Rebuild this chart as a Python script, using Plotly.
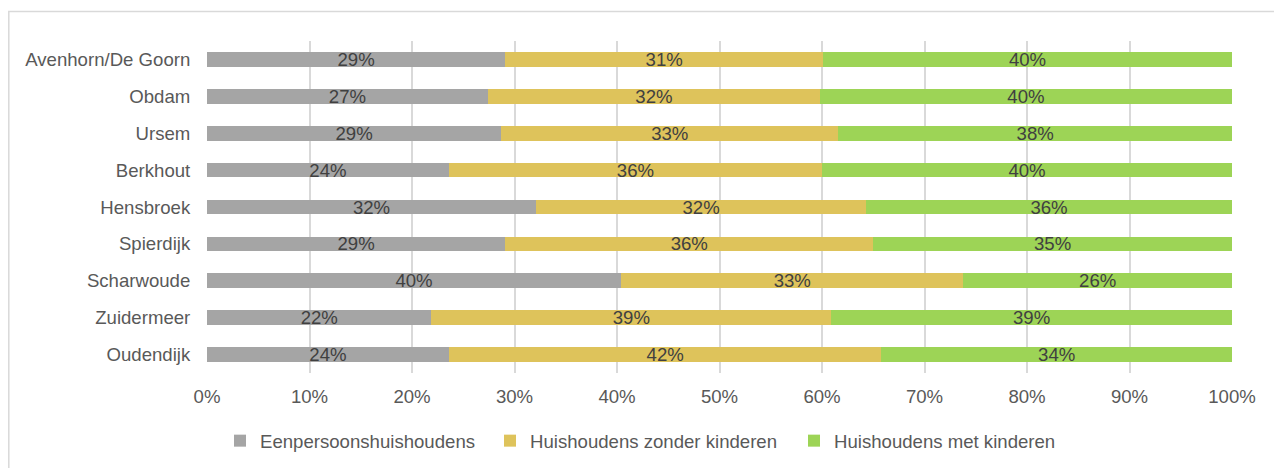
import plotly.graph_objects as go

categories = ["Avenhorn/De Goorn", "Obdam", "Ursem", "Berkhout", "Hensbroek",
              "Spierdijk", "Scharwoude", "Zuidermeer", "Oudendijk"]
eenpersoons = [29.1, 27.4, 28.7, 23.6, 32.1, 29.1, 40.4, 21.9, 23.6]
zonder_kinderen = [31.0, 32.4, 32.9, 36.4, 32.2, 35.9, 33.4, 39.0, 42.2]
met_kinderen = [39.9, 40.2, 38.4, 40.0, 35.7, 35.0, 26.2, 39.1, 34.2]
series_names = ["Eenpersoonshuishoudens", "Huishoudens zonder kinderen", "Huishoudens met kinderen"]
colors = ["#A5A5A5", "#DEC35B", "#9DD456"]
tick_vals = [0, 10, 20, 30, 40, 50, 60, 70, 80, 90, 100]
tick_text = [f"{v}%" for v in tick_vals]

FONT = "Liberation Sans, Arial, sans-serif"
FS = 18.6

# page offset (body margin 8px) compensation
OFF = 8
L, T = 207 - OFF, 40.5 - OFF
PW, PH = 1025, 333
W, H = 1282, 468

legend_ids = ["legend", "legend2", "legend3"]
legend_x = [(220 - 207) / PW, (490 - 207) / PW, (794 - 207) / PW]

fig = go.Figure()
for name, vals, col, lid in zip(series_names, [eenpersoons, zonder_kinderen, met_kinderen], colors, legend_ids):
    fig.add_trace(go.Bar(
        y=categories, x=vals, name=name, orientation="h", legend=lid,
        marker=dict(color=col, line=dict(width=0)),
        texttemplate="%{x:.0f}%", textposition="inside", insidetextanchor="middle",
        textangle=0, constraintext="none",
        textfont=dict(family=FONT, size=FS, color="#404040"),
        hoverinfo="skip",
    ))

legend_common = dict(orientation="h", xanchor="left", y=-0.205, yanchor="middle",
                     font=dict(family=FONT, size=FS, color="#595959"),
                     bgcolor="rgba(0,0,0,0)", itemclick=False, itemdoubleclick=False)

fig.update_layout(
    barmode="stack", bargap=0.6,
    width=W, height=H,
    margin=dict(l=L, r=W - L - PW, t=T, b=H - T - PH, autoexpand=False),
    paper_bgcolor="white", plot_bgcolor="white",
    font=dict(family=FONT, size=FS, color="#595959"),
    showlegend=True,
    legend=dict(x=legend_x[0], **legend_common),
    legend2=dict(x=legend_x[1], **legend_common),
    legend3=dict(x=legend_x[2], **legend_common),
    xaxis=dict(range=[0, 100], tickmode="array", tickvals=tick_vals, ticktext=tick_text,
               showgrid=True, gridcolor="#D9D9D9", gridwidth=1.5,
               zeroline=False, showline=False,
               ticks="outside", ticklen=7, tickcolor="rgba(0,0,0,0)",
               tickfont=dict(family=FONT, size=FS, color="#595959")),
    yaxis=dict(autorange="reversed", categoryorder="array", categoryarray=categories,
               showgrid=False, zeroline=False, showline=False,
               ticks="outside", ticklen=12, tickcolor="rgba(0,0,0,0)",
               tickfont=dict(family=FONT, size=FS, color="#595959")),
    shapes=[dict(type="rect", xref="paper", yref="paper",
                 x0=(8.8 - 207) / PW, x1=(1300 - 207) / PW,
                 y0=-0.4, y1=(373.5 - 11) / PH,
                 line=dict(color="#D9D9D9", width=1.5), fillcolor="rgba(0,0,0,0)",
                 layer="below")],
)

fig.write_html("out.html")
